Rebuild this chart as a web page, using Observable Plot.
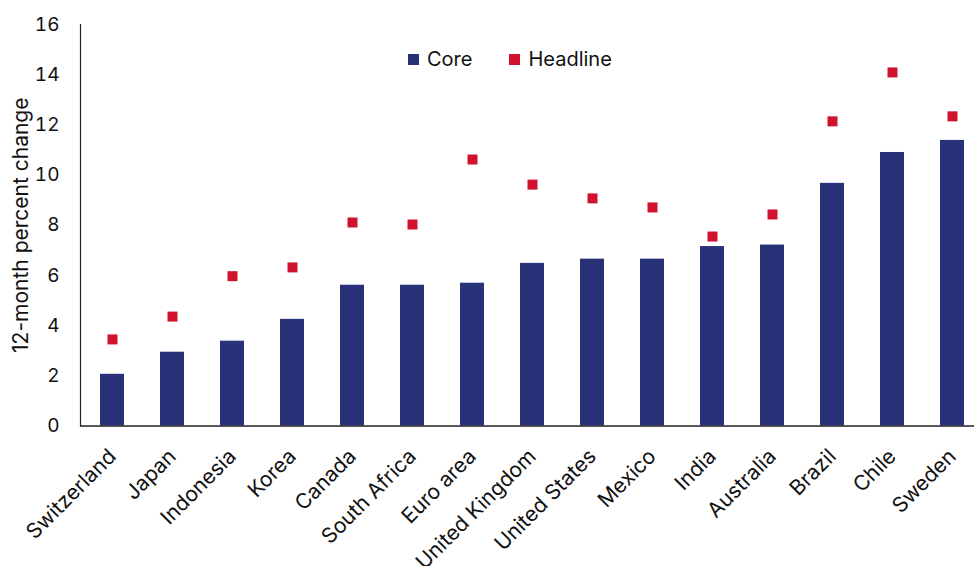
<!DOCTYPE html>
<html>
<head>
<meta charset="utf-8">
<script src="https://cdn.jsdelivr.net/npm/d3@7"></script>
<script src="https://cdn.jsdelivr.net/npm/@observablehq/plot@0.6"></script>
<style>
  html, body { margin: 0; padding: 0; background: #fff; overflow: hidden; }
  #wrap { position: relative; width: 974px; height: 566px; font-family: Inter, "Noto Sans", sans-serif; color: #111; }
  .legend { position: absolute; top: 47px; left: 408px; display: flex; align-items: center; font-size: 20px; }
  .legend .item { display: flex; align-items: center; }
  .legend .sw { width: 11px; height: 11px; margin-right: 8px; }
  .legend .item + .item { margin-left: 37px; }
</style>
</head>
<body>
<div id="wrap"></div>
<script>
// Countries, ordered by core inflation
const countries = ["Switzerland", "Japan", "Indonesia", "Korea", "Canada", "South Africa", "Euro area",
  "United Kingdom", "United States", "Mexico", "India", "Australia", "Brazil", "Chile", "Sweden"];
// 12-month percent change, core
const core = [2.06, 2.94, 3.38, 4.25, 5.61, 5.61, 5.69, 6.48, 6.65, 6.65, 7.15, 7.21, 9.67, 10.9, 11.38];
// 12-month percent change, headline
const headline = [3.45, 4.36, 5.97, 6.32, 8.11, 8.03, 10.62, 9.62, 9.07, 8.71, 7.55, 8.43, 12.14, 14.09, 12.34];
const yTicks = [0, 2, 4, 6, 8, 10, 12, 14, 16];
const yTitle = "12-month percent change";
const seriesNames = ["Core", "Headline"];
const seriesColors = ["#283279", "#d0122f"];

const rows = countries.map((c, i) => ({country: c, core: core[i], headline: headline[i]}));

const chart = Plot.plot({
  width: 974,
  height: 566,
  marginLeft: 80,
  marginTop: 24,
  marginBottom: 140.5,
  marginRight: 0,
  style: {fontFamily: "Inter, 'Noto Sans', sans-serif", fontSize: "19px", color: "#111", background: "white"},
  x: {domain: countries, range: [80, 984], paddingInner: 0.6, paddingOuter: 0.3, label: null},
  y: {domain: [0, 16], label: null},
  marks: [
    Plot.barY(rows, {x: "country", y: "core", fill: seriesColors[0]}),
    Plot.dot(rows, {x: "country", y: "headline", symbol: "square", r: 5.64, fill: seriesColors[1], stroke: null}),
    Plot.ruleY([0], {stroke: "#222", strokeWidth: 1.5}),
    Plot.frame({anchor: "left", stroke: "#222", strokeWidth: 1.2}),
    Plot.axisX({tickSize: 0, tickRotate: -45, tickPadding: 27, fontSize: 21, label: null}),
    Plot.axisY({ticks: yTicks, tickSize: 0, tickPadding: 21, tickFormat: d3.format("d"), label: null, fontSize: 19}),
    // Rotated y-axis title, centred on the plot height
    Plot.text([yTitle], {frameAnchor: "left", textAnchor: "middle", rotate: -90, dx: -59, fontSize: 21, fill: "#111"})
  ]
});

const wrap = document.getElementById("wrap");
wrap.appendChild(chart);

// Legend drawn over the plot area
const legend = document.createElement("div");
legend.className = "legend";
seriesNames.forEach((name, i) => {
  const item = document.createElement("div");
  item.className = "item";
  const sw = document.createElement("span");
  sw.className = "sw";
  sw.style.background = seriesColors[i];
  const label = document.createElement("span");
  label.textContent = name;
  item.appendChild(sw);
  item.appendChild(label);
  legend.appendChild(item);
});
wrap.appendChild(legend);
</script>
</body>
</html>
